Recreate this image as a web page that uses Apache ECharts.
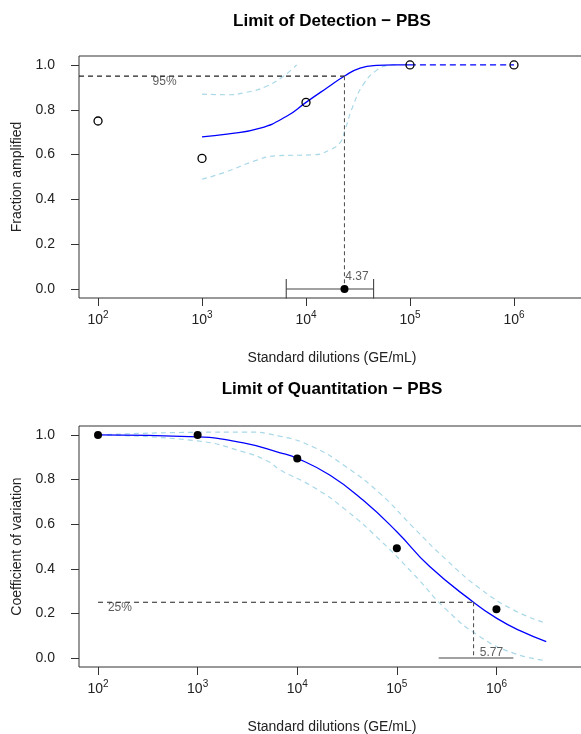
<!DOCTYPE html>
<html>
<head>
<meta charset="utf-8">
<script src="https://cdn.jsdelivr.net/npm/echarts@6/dist/echarts.min.js"></script>
<style>
html, body { margin: 0; padding: 0; background: #fff; }
#myChart { width: 581px; height: 734px; }
</style>
</head>
<body>
<div id="myChart"></div>
<script>
// observed data
const dilutions = [1e2, 1e3, 1e4, 1e5, 1e6]
const fracAmplified = [0.75, 0.583, 0.833, 1.0, 1.0]
const cvValues = [1.0, 1.0, 0.894, 0.492, 0.219]

// limit estimates (log10 GE/mL) and their intervals
const lod = 4.37, lodLow = 3.81, lodHigh = 4.65
const loq = 5.77, loqLow = 5.42, loqHigh = 6.17

// fitted curves, x in log10(GE/mL)
const lodFitX = [3.0, 3.24, 3.56, 3.81, 4.0, 4.2, 4.375, 4.52, 4.68, 4.84, 5.0]
const lodFitY = [0.679, 0.691, 0.718, 0.770, 0.833, 0.897, 0.952, 0.986, 0.998, 1.0, 1.0]
const lodUpX = [3.0, 3.24, 3.43, 3.62, 3.78, 3.91]
const lodUpY = [0.870, 0.867, 0.878, 0.905, 0.949, 1.0]
const lodLoX = [3.0, 3.24, 3.49, 3.72, 4.07, 4.23, 4.33, 4.375, 4.45, 4.55, 4.68, 4.80, 4.87]
const lodLoY = [0.490, 0.524, 0.569, 0.595, 0.599, 0.621, 0.655, 0.710, 0.815, 0.912, 0.977, 0.998, 1.0]
const plateauX = [5, 6]
const plateauY = [1.0, 1.0]

const loqFitX = [2.0, 3.0, 3.46, 3.82, 4.0, 4.33, 4.66, 5.0, 5.33, 5.77, 6.0, 6.23, 6.5]
const loqFitY = [1.0, 0.991, 0.964, 0.921, 0.895, 0.819, 0.708, 0.566, 0.410, 0.250, 0.179, 0.124, 0.074]
const loqUpX = [2.0, 3.0, 3.46, 3.82, 4.16, 4.49, 4.83, 5.16, 5.5, 5.83, 6.17, 6.5]
const loqUpY = [1.0, 1.012, 1.013, 0.995, 0.946, 0.857, 0.738, 0.588, 0.439, 0.313, 0.216, 0.156]
const loqLoX = [2.0, 3.0, 3.46, 3.72, 3.82, 4.16, 4.49, 4.83, 5.16, 5.5, 5.83, 6.17, 6.5]
const loqLoY = [1.0, 0.973, 0.924, 0.879, 0.845, 0.767, 0.663, 0.529, 0.380, 0.216, 0.097, 0.022, -0.011]

// axis ticks
const xTickExps = [2, 3, 4, 5, 6]
const yTicks = [0, 0.2, 0.4, 0.6, 0.8, 1.0]

const FONT = '"Liberation Sans", Arial, Helvetica, sans-serif'
const zip = (xs, ys) => xs.map((x, i) => [x, ys[i]])
const logX = dilutions.map(d => Math.log10(d))

function xAxisFor (idx, min, max) {
  return {
    type: 'value', gridIndex: idx, min: min, max: max,
    name: 'Standard dilutions (GE/mL)', nameLocation: 'middle', nameGap: 53,
    nameTextStyle: { fontSize: 14, color: '#222', fontFamily: FONT },
    axisLine: { show: false, onZero: false },
    splitLine: { show: false },
    axisTick: { show: true, length: 8, lineStyle: { color: '#333', width: 1 }, customValues: xTickExps },
    axisLabel: {
      margin: 12, customValues: xTickExps,
      formatter: v => '{b|10}{s|' + v + '}',
      rich: {
        b: { fontSize: 14, lineHeight: 20, color: '#222', fontFamily: FONT },
        s: { fontSize: 10, lineHeight: 10, verticalAlign: 'top', color: '#222', fontFamily: FONT }
      }
    }
  }
}
function yAxisFor (idx, name) {
  return {
    type: 'value', gridIndex: idx, min: -0.04, max: 1.04,
    name: name, nameLocation: 'middle', nameGap: 53, nameRotate: 90,
    nameTextStyle: { fontSize: 14, color: '#222', fontFamily: FONT },
    axisLine: { show: false, onZero: false },
    splitLine: { show: false },
    axisTick: { show: true, length: 8, lineStyle: { color: '#333', width: 1 }, customValues: yTicks },
    axisLabel: {
      margin: 24, customValues: yTicks, fontSize: 14, color: '#222', fontFamily: FONT,
      formatter: v => v.toFixed(1)
    }
  }
}
function lineSeries (idx, data, color, dash, width, z) {
  return {
    type: 'line', xAxisIndex: idx, yAxisIndex: idx, data: data,
    symbol: 'none', smooth: 0.5, silent: true, z: z || 2,
    lineStyle: { color: color, width: width || 1.2, type: dash || 'solid' }
  }
}
function plainLine (idx, data, color, dash) {
  return {
    type: 'line', xAxisIndex: idx, yAxisIndex: idx, data: data,
    symbol: 'none', silent: true, z: 3,
    lineStyle: { color: color, width: 1.1, type: dash || 'solid' }
  }
}
function textMark (idx, x, y, text) {
  return {
    type: 'scatter', xAxisIndex: idx, yAxisIndex: idx, symbolSize: 0, silent: true, z: 5,
    data: [[x, y]],
    label: { show: true, position: 'inside', formatter: text, fontSize: 12, color: '#333', fontFamily: FONT }
  }
}

let myChart = echarts.init(document.getElementById('myChart'))
myChart.setOption({
  animation: false,
  backgroundColor: '#fff',
  title: [
    { text: 'Limit of Detection \u2212 PBS', left: 332, top: 13, textAlign: 'center', padding: 0,
      textStyle: { fontSize: 17, fontWeight: 'bold', color: '#000', fontFamily: FONT } },
    { text: 'Limit of Quantitation \u2212 PBS', left: 332, top: 381, textAlign: 'center', padding: 0,
      textStyle: { fontSize: 17, fontWeight: 'bold', color: '#000', fontFamily: FONT } }
  ],
  grid: [
    { left: 79, top: 56, width: 506, height: 242, show: true, borderColor: '#333', borderWidth: 1, outerBoundsMode: 'none' },
    { left: 79, top: 426, width: 506, height: 241, show: true, borderColor: '#333', borderWidth: 1, outerBoundsMode: 'none' }
  ],
  xAxis: [xAxisFor(0, 1.817, 6.683), xAxisFor(1, 1.809, 6.889)],
  yAxis: [yAxisFor(0, 'Fraction amplified'), yAxisFor(1, 'Coefficient of variation')],
  series: [
    // detection panel
    lineSeries(0, zip(lodUpX, lodUpY), '#a9d8e8', [5, 4]),
    lineSeries(0, zip(lodLoX, lodLoY), '#a9d8e8', [5, 4]),
    lineSeries(0, zip(lodFitX, lodFitY), '#0000ff', 'solid', 1.3, 3),
    lineSeries(0, zip(plateauX, plateauY), '#0000ff', [6, 4], 1.3, 3),
    plainLine(0, [[1.817, 0.95], [lod, 0.95]], '#222', [5, 4]),
    plainLine(0, [[lod, 0.95], [lod, 0]], '#555', [4, 3]),
    plainLine(0, [[lodLow, 0], [lodHigh, 0]], '#444'),
    plainLine(0, [[lodLow, -0.045], [lodLow, 0.045]], '#444'),
    plainLine(0, [[lodHigh, -0.045], [lodHigh, 0.045]], '#444'),
    {
      type: 'scatter', xAxisIndex: 0, yAxisIndex: 0, symbol: 'circle', symbolSize: 8, z: 4,
      itemStyle: { color: 'rgba(255,255,255,0)', borderColor: '#000', borderWidth: 1.3, opacity: 1 },
      data: zip(logX, fracAmplified)
    },
    {
      type: 'scatter', xAxisIndex: 0, yAxisIndex: 0, symbol: 'circle', symbolSize: 8, z: 4,
      itemStyle: { color: '#000', opacity: 1 }, data: [[lod, 0]]
    },
    textMark(0, 2.64, 0.925, '95%'),
    textMark(0, lod + 0.12, 0.055, String(lod)),
    // quantitation panel
    lineSeries(1, zip(loqUpX, loqUpY), '#a9d8e8', [5, 4]),
    lineSeries(1, zip(loqLoX, loqLoY), '#a9d8e8', [5, 4]),
    lineSeries(1, zip(loqFitX, loqFitY), '#0000ff', 'solid', 1.3, 3),
    plainLine(1, [[2, 0.25], [loq, 0.25]], '#222', [5, 4]),
    plainLine(1, [[loq, 0.25], [loq, 0]], '#555', [4, 3]),
    plainLine(1, [[loqLow, 0], [loqHigh, 0]], '#444'),
    {
      type: 'scatter', xAxisIndex: 1, yAxisIndex: 1, symbol: 'circle', symbolSize: 8, z: 4,
      itemStyle: { color: '#000', opacity: 1 }, data: zip(logX, cvValues)
    },
    textMark(1, 2.22, 0.228, '25%'),
    textMark(1, loq + 0.18, 0.025, String(loq))
  ]
})
</script>
</body>
</html>
